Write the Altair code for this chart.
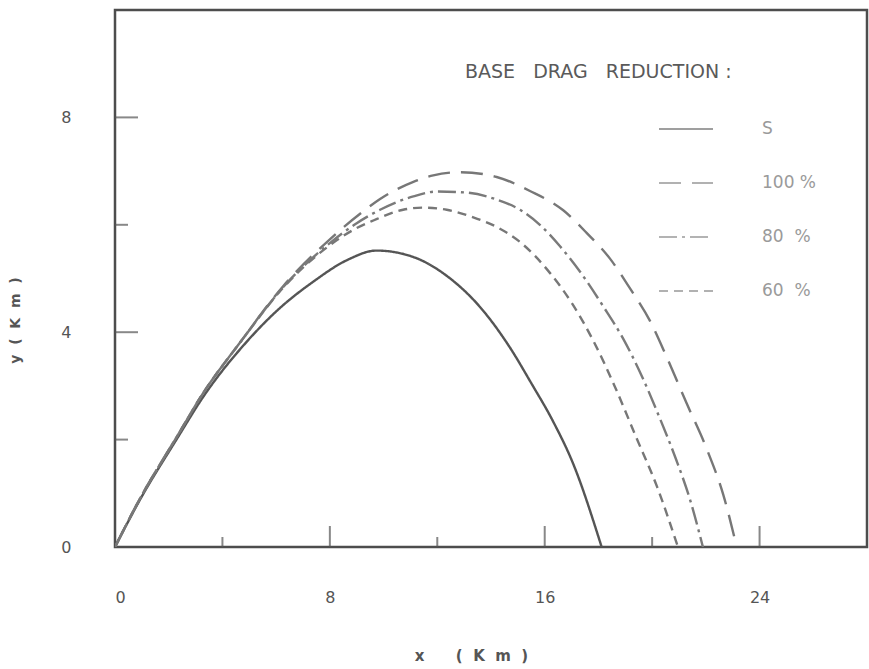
import altair as alt
import pandas as pd

NB = "\u00a0"

# ---- data ----
series_names = ["S", "100" + NB + "%", "80" + NB + NB + "%", "60" + NB + NB + "%"]

s_x = [0, 0.93, 2.30, 3.29, 4.90, 6.14, 7.38, 8.63, 9.74, 11.11, 12.35, 13.59, 14.71, 15.50, 16.30, 17.06, 18.12]
s_y = [0, 0.88, 2.01, 2.80, 3.82, 4.45, 4.94, 5.34, 5.52, 5.40, 5.05, 4.47, 3.71, 3.05, 2.35, 1.55, 0]

r100_x = [0, 0.93, 2.30, 3.30, 4.60, 6.30, 8.00, 9.24, 9.87, 11.11, 11.85, 12.84, 14.21, 15.45, 16.69, 17.56, 18.43, 19.17, 19.92, 20.54, 21.28, 22.03, 22.65, 23.15]
r100_y = [0, 0.90, 2.05, 2.88, 3.77, 4.88, 5.73, 6.25, 6.48, 6.80, 6.92, 6.98, 6.89, 6.63, 6.27, 5.85, 5.37, 4.82, 4.21, 3.54, 2.68, 1.83, 0.97, 0]

r80_x = [0, 0.93, 2.30, 3.30, 4.60, 6.30, 8.00, 9.00, 9.87, 11.11, 11.98, 13.09, 14.21, 15.08, 15.82, 16.57, 17.31, 18.18, 18.92, 19.60, 20.30, 20.90, 21.40, 21.89]
r80_y = [0, 0.90, 2.05, 2.88, 3.77, 4.86, 5.66, 6.03, 6.28, 6.53, 6.62, 6.60, 6.47, 6.28, 6.00, 5.60, 5.13, 4.48, 3.88, 3.20, 2.38, 1.62, 0.90, 0]

r60_x = [0, 0.93, 2.30, 3.30, 4.60, 6.30, 8.00, 9.00, 9.62, 10.73, 11.48, 12.35, 13.34, 14.21, 15.08, 16.20, 17.00, 17.80, 18.60, 19.40, 20.20, 20.96]
r60_y = [0, 0.90, 2.05, 2.88, 3.77, 4.85, 5.62, 5.94, 6.08, 6.28, 6.32, 6.28, 6.14, 5.96, 5.68, 5.10, 4.55, 3.85, 3.00, 2.05, 1.10, 0]

x_label_values = [0, 8, 16, 24]
y_label_values = [0, 4, 8]
x_major_ticks = [8, 16, 24]
x_minor_ticks = [4, 12, 20]
y_major_ticks = [4, 8]
y_minor_ticks = [2, 6]

legend_title = "BASE" + NB * 2 + " DRAG" + NB * 2 + " REDUCTION :"
x_title = "x" + NB * 6 + "(" + NB * 2 + "K" + NB * 2 + "m" + NB * 2 + ")"
y_title = "y" + NB * 2 + "(" + NB + " K" + NB + " m" + NB + " )"

# ---- build table ----
rows = []
for name, xs, ys in [
    (series_names[0], s_x, s_y),
    (series_names[1], r100_x, r100_y),
    (series_names[2], r80_x, r80_y),
    (series_names[3], r60_x, r60_y),
]:
    for xv, yv in zip(xs, ys):
        rows.append({"series": name, "x": xv, "y": yv})
df = pd.DataFrame(rows)

FONT = "DejaVu Sans"
colors = ["#555555", "#777777", "#7a7a7a", "#777777"]
dashes = [[1, 0], [22, 11], [18, 5, 3, 5], [9, 6]]

legend_def = dict(
    title=None,
    orient="none",
    legendX=543,
    legendY=91,
    symbolType="stroke",
    symbolSize=2916,
    symbolStrokeWidth=1.6,
    symbolOpacity=0.75,
    labelOffset=48,
    labelFontSize=17,
    labelColor="#9a9a9a",
    labelFont=FONT,
    rowPadding=18,
    padding=0,
)

x_scale = alt.Scale(domain=[0, 28], nice=False, zero=False)
y_scale = alt.Scale(domain=[0, 10], nice=False, zero=False)

lines = alt.Chart(df).mark_line(strokeWidth=2.4, clip=True, interpolate="monotone").encode(
    x=alt.X(
        "x:Q",
        scale=x_scale,
        axis=alt.Axis(
            values=x_label_values, ticks=False, domain=False, grid=False,
            labelPadding=42, labelFontSize=16, labelColor="#555555", labelFont=FONT,
            title=x_title, titleX=356, titleY=108, titleAlign="center",
            titleBaseline="middle", titleFontSize=15, titleFontWeight="bold",
            titleColor="#555555", titleFont=FONT,
        ),
    ),
    y=alt.Y(
        "y:Q",
        scale=y_scale,
        axis=alt.Axis(
            values=y_label_values, ticks=False, domain=False, grid=False,
            labelPadding=44, labelFontSize=16, labelColor="#555555", labelFont=FONT,
            title=y_title, titleX=-100, titleY=310, titleAlign="center",
            titleBaseline="middle", titleFontSize=14, titleFontWeight="bold",
            titleColor="#555555", titleFont=FONT,
        ),
    ),
    color=alt.Color("series:N", scale=alt.Scale(domain=series_names, range=colors),
                    legend=alt.Legend(**legend_def)),
    strokeDash=alt.StrokeDash("series:N", scale=alt.Scale(domain=series_names, range=dashes),
                              legend=alt.Legend(**legend_def)),
)

def xticks(vals, size):
    return alt.Chart(pd.DataFrame({"x": vals})).mark_tick(
        orient="vertical", size=size, thickness=2, yOffset=-size / 2, color="#555555"
    ).encode(x=alt.X("x:Q"), y=alt.datum(0))

def yticks(vals, size):
    return alt.Chart(pd.DataFrame({"y": vals})).mark_tick(
        orient="horizontal", size=size, thickness=2, xOffset=size / 2, color="#555555"
    ).encode(y=alt.Y("y:Q"), x=alt.datum(0))

title_text = alt.Chart(pd.DataFrame({"t": [legend_title]})).mark_text(
    align="left", baseline="middle", fontSize=19, font=FONT, color="#5a5a5a"
).encode(x=alt.value(350), y=alt.value(62), text="t:N")

chart = alt.layer(
    lines,
    xticks(x_major_ticks, 21),
    xticks(x_minor_ticks, 10),
    yticks(y_major_ticks, 23),
    yticks(y_minor_ticks, 13),
    title_text,
).properties(
    width=752,
    height=537,
    autosize=alt.AutoSizeParams(type="none"),
    padding={"left": 115, "top": 10, "right": 2, "bottom": 122},
    background="white",
).configure_view(
    stroke="#4d4d4d", strokeWidth=2.5
)

chart.save("out.html", embed_options={"renderer": "svg", "actions": False})
